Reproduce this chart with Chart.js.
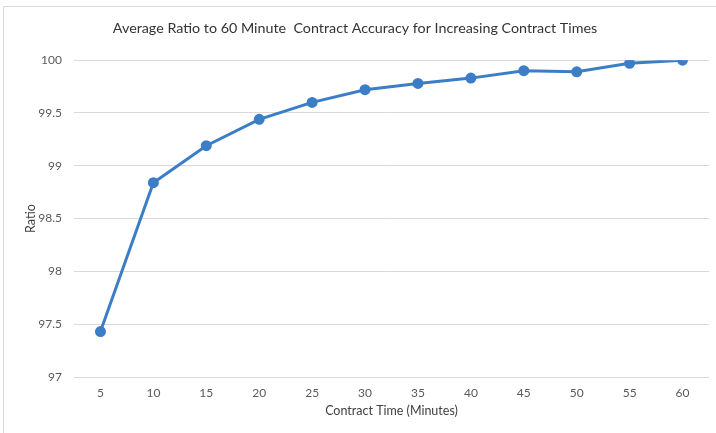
<!DOCTYPE html>
<html>
<head>
<meta charset="utf-8">
<script src="https://cdn.jsdelivr.net/npm/chart.js@4"></script>
<style>
  html, body { margin: 0; padding: 0; background: #fff; }
  #wrap { width: 716px; height: 433px; position: relative; }
</style>
</head>
<body>
<div id="wrap"><canvas id="chart" width="716" height="433"></canvas></div>
<script>
// Data
const contractTimes = ['5', '10', '15', '20', '25', '30', '35', '40', '45', '50', '55', '60'];
const ratios = [97.43, 98.84, 99.19, 99.44, 99.60, 99.72, 99.78, 99.83, 99.90, 99.89, 99.97, 100.0];
const yMin = 97;
const yMax = 100;
const yStep = 0.5;

const fontFamily = 'Lato, "Open Sans", sans-serif';
const lineBlue = '#3c7ec6';

// light frame on the top and left edge, like the cropped Excel chart border
const framePlugin = {
    id: 'frame',
    beforeDraw(chart) {
        const ctx = chart.ctx;
        ctx.save();
        ctx.strokeStyle = '#d9d9d9';
        ctx.lineWidth = 1;
        ctx.beginPath();
        ctx.moveTo(3.5, 433);
        ctx.lineTo(3.5, 6.5);
        ctx.lineTo(716, 6.5);
        ctx.stroke();
        ctx.restore();
    }
};

new Chart(document.getElementById('chart').getContext('2d'), {
    type: 'line',
    data: {
        labels: contractTimes,
        datasets: [{
            label: 'Ratio',
            data: ratios,
            borderColor: lineBlue,
            backgroundColor: lineBlue,
            borderWidth: 3,
            tension: 0,
            pointRadius: 4,
            pointHoverRadius: 4,
            pointBackgroundColor: lineBlue,
            pointBorderColor: lineBlue
        }]
    },
    options: {
        responsive: false,
        animation: false,
        layout: { padding: { left: 0, right: 6, top: 0, bottom: 0 } },
        plugins: {
            legend: { display: false },
            tooltip: { enabled: false },
            title: {
                display: true,
                text: 'Average Ratio to 60 Minute  Contract Accuracy for Increasing Contract Times',
                color: '#333333',
                font: { family: fontFamily, size: 14.3, weight: 'normal', lineHeight: 1.2 },
                padding: { top: 20, bottom: 23 }
            }
        },
        scales: {
            x: {
                offset: true,
                grid: { display: false },
                border: { display: false },
                ticks: {
                    color: '#595959',
                    font: { family: fontFamily, size: 12 },
                    padding: 1,
                    maxRotation: 0
                },
                title: {
                    display: true,
                    text: 'Contract Time (Minutes)',
                    color: '#404040',
                    font: { family: fontFamily, size: 12.5 },
                    padding: { top: 4, bottom: 15 }
                },
                afterFit(scale) { scale.height = 56; }
            },
            y: {
                min: yMin,
                max: yMax,
                grid: { color: '#d9d9d9', lineWidth: 1, drawTicks: false },
                border: { display: false },
                ticks: {
                    stepSize: yStep,
                    color: '#595959',
                    font: { family: fontFamily, size: 12 },
                    padding: 12,
                    callback: (v) => String(v)
                },
                title: {
                    display: true,
                    text: 'Ratio',
                    color: '#404040',
                    font: { family: fontFamily, size: 12.5 },
                    padding: { top: 23, bottom: 4 }
                },
                afterFit(scale) { scale.width = 74; }
            }
        }
    },
    plugins: [framePlugin]
});
</script>
</body>
</html>
